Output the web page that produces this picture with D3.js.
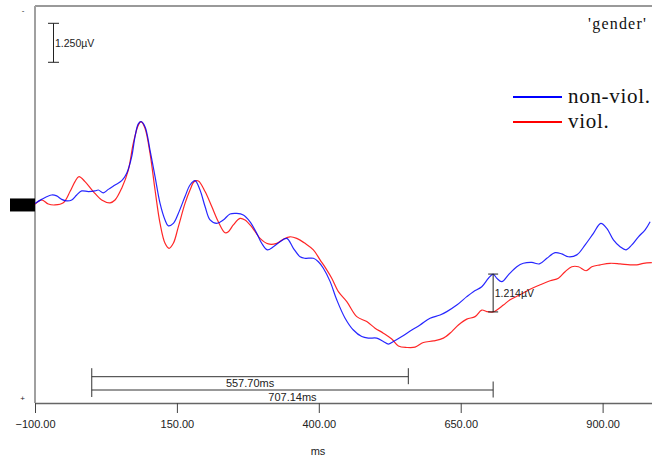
<!DOCTYPE html>
<html>
<head>
<meta charset="utf-8">
<script src="https://cdn.jsdelivr.net/npm/d3@7"></script>
<style>
  html, body { margin: 0; padding: 0; background: #fff; }
  svg { display: block; }
  .sans { font-family: "Liberation Sans", Arial, sans-serif; fill: #222; }
  .serif { font-family: "Liberation Serif", "Times New Roman", serif; fill: #111; }
</style>
</head>
<body>
<svg id="chart" width="652" height="459"></svg>
<script>
// ERP grand average, condition 'gender' (amplitude in µV, negative plotted up)
const tickMs = [-100, 150, 400, 650, 900];

const nonViolMs = [-100, -88.2, -70.6, -61.8, -53.0, -44.1, -35.3, -26.5, -17.7, -6.1, 5.7, 11.5, 20.4, 29.2,
  41.0, 52.8, 61.6, 70.4, 76.2, 82.0, 86.8, 93.8, 102.6, 111.5, 120.3, 129.1, 134.9, 143.7, 152.5, 164.3,
  173.1, 181.9, 190.7, 199.6, 208.4, 220.2, 231.8, 243.6, 255.4, 267.0, 278.9, 290.7, 299.5, 309.3, 319.9,
  331.7, 343.5, 355.2, 367.0, 375.8, 390.4, 399.2, 408.0, 419.8, 431.6, 446.3, 460.9, 475.7, 487.3, 502.1,
  513.7, 522.6, 531.4, 546.2, 563.8, 578.4, 596.0, 613.7, 625.5, 643.1, 660.7, 672.3, 687.1, 698.8, 707.14,
  713.6, 722.4, 734.0, 748.8, 760.4, 775.2, 788.6, 801.7, 816.3, 828.1, 839.7, 854.5, 869.2, 883.8, 896.8,
  907.4, 919.0, 930.8, 941.4, 951.5, 963.1, 974.9, 983.7];
const nonViolUv = [-0.05, -0.18, -0.32, -0.29, -0.18, -0.13, -0.16, -0.32, -0.45, -0.43, -0.45, -0.48, -0.39, -0.50,
  -0.64, -0.78, -1.02, -1.55, -2.19, -2.60, -2.67, -2.51, -1.76, -0.91, -0.05, 0.48, 0.67, 0.59, 0.27, -0.27,
  -0.64, -0.78, -0.48, 0.05, 0.48, 0.59, 0.48, 0.29, 0.27, 0.32, 0.54, 0.91, 1.23, 1.44, 1.34,
  1.18, 1.07, 1.39, 1.66, 1.71, 1.71, 1.82, 2.03, 2.45, 3.04, 3.63, 4.01, 4.22, 4.27, 4.27,
  4.38, 4.46, 4.38, 4.22, 4.01, 3.85, 3.63, 3.53, 3.42, 3.21, 2.94, 2.78, 2.62, 2.35, 2.216,
  2.35, 2.46, 2.24, 1.98, 1.87, 1.84, 1.89, 1.71, 1.53, 1.57, 1.66, 1.60, 1.28, 0.91, 0.59,
  0.75, 1.12, 1.34, 1.44, 1.28, 1.02, 0.80, 0.54];

const violMs = [-100, -88.2, -76.6, -64.8, -50.1, -38.3, -29.5, -22.5, -11.9, 2.7, 17.5, 32.2, 41.0, 52.8,
  64.4, 73.2, 82.0, 86.8, 93.8, 102.6, 111.5, 120.3, 129.1, 136.1, 143.7, 152.5, 164.3, 173.1, 180.7,
  187.8, 199.6, 211.4, 223.0, 234.8, 240.6, 249.4, 261.2, 270.0, 281.8, 296.5, 311.1, 325.9, 337.5, 349.3,
  361.1, 375.8, 390.4, 402.2, 414.0, 422.8, 434.5, 449.3, 466.9, 484.5, 499.1, 513.7, 528.5, 540.2, 555.0,
  569.6, 584.2, 601.9, 619.5, 634.3, 645.9, 660.7, 675.3, 687.1, 696.0, 707.14, 713.6, 725.2, 737.0, 754.6,
  772.2, 789.9, 807.5, 822.1, 833.9, 845.7, 857.4, 870.9, 881.0, 895.6, 913.2, 930.8, 948.5, 960.3, 971.9, 986.7];
const violUv = [-0.02, -0.16, -0.03, 0.00, -0.07, -0.43, -0.75, -0.91, -0.75, -0.43, -0.16, -0.07, -0.16, -0.54,
  -1.12, -1.98, -2.56, -2.67, -2.46, -1.66, -0.48, 0.59, 1.23, 1.39, 1.23, 0.70, -0.05, -0.48, -0.75,
  -0.77, -0.43, 0.05, 0.54, 0.89, 0.86, 0.64, 0.43, 0.48, 0.70, 1.07, 1.25, 1.23, 1.10, 1.02,
  1.07, 1.23, 1.44, 1.76, 2.08, 2.35, 2.78, 3.10, 3.58, 3.74, 3.95, 4.11, 4.30, 4.52, 4.57,
  4.56, 4.41, 4.36, 4.27, 4.06, 3.85, 3.66, 3.58, 3.37, 3.42, 3.43, 3.37, 3.21, 3.04, 2.88,
  2.70, 2.56, 2.43, 2.35, 2.14, 1.98, 1.98, 2.11, 1.98, 1.92, 1.87, 1.89, 1.92, 1.92, 1.87, 1.85];

const seriesNames = ["non-viol.", "viol."];
const seriesColors = ["#0000ff", "#ff0000"];
const conditionLabel = "'gender'";

// latency markers (ms from stimulus onset) and amplitude readout
const latencyMarks = [557.70, 707.14];
const scaleBarUv = 1.25;
const diffTimeMs = 707.14;

const svg = d3.select("#chart");
const plotLeft = 35, plotRight = 652, plotTop = 6, plotBottom = 403;

const x = d3.scaleLinear().domain([-100, 987]).range([plotLeft, plotRight]);
const y = d3.scaleLinear().domain([-6.38, 6.35]).range([plotTop, plotBottom]);

svg.append("defs").append("clipPath").attr("id", "plotClip")
  .append("rect").attr("x", plotLeft).attr("y", plotTop)
  .attr("width", plotRight - plotLeft).attr("height", plotBottom - plotTop);

// frame: top border and left axis
svg.append("line").attr("x1", plotLeft).attr("x2", plotRight).attr("y1", plotTop).attr("y2", plotTop)
  .attr("stroke", "#999").attr("stroke-width", 2);
svg.append("line").attr("x1", plotLeft).attr("x2", plotLeft).attr("y1", plotTop).attr("y2", plotBottom)
  .attr("stroke", "#a0a0a0").attr("stroke-width", 2);

// polarity markers and baseline block
svg.append("text").attr("class", "sans").attr("x", 23).attr("y", 13)
  .attr("font-size", 8).attr("text-anchor", "middle").text("-");
svg.append("text").attr("class", "sans").attr("x", 22.5).attr("y", 401)
  .attr("font-size", 8).attr("text-anchor", "middle").text("+");
svg.append("rect").attr("x", 10).attr("y", y(0) - 6.5).attr("width", plotLeft - 10).attr("height", 13)
  .attr("fill", "#000");

// x axis
const xAxis = d3.axisBottom(x).tickValues(tickMs).tickFormat(d3.format(".2f"))
  .tickSize(10).tickSizeOuter(0);
const gx = svg.append("g").attr("transform", `translate(0,${plotBottom})`).call(xAxis);
gx.select(".domain").attr("stroke", "#666").attr("stroke-width", 1.5);
gx.selectAll(".tick line").attr("stroke", "#444");
gx.selectAll(".tick text").attr("class", "sans").attr("font-size", 11).attr("dy", "1.05em")
  .style("font-family", "'Liberation Sans', Arial, sans-serif").attr("fill", "#222");
svg.append("text").attr("class", "sans").attr("x", 318).attr("y", 455)
  .attr("font-size", 11).attr("text-anchor", "middle").text("ms");

// amplitude scale bar
const sbX = 53.5, sbTop = 23.3;
const sbLen = y(scaleBarUv) - y(0);
const sb = svg.append("g").attr("stroke", "#222").attr("stroke-width", 1);
sb.append("line").attr("x1", sbX).attr("x2", sbX).attr("y1", sbTop).attr("y2", sbTop + sbLen);
sb.append("line").attr("x1", sbX - 5.5).attr("x2", sbX + 5.5).attr("y1", sbTop).attr("y2", sbTop);
sb.append("line").attr("x1", sbX - 5.5).attr("x2", sbX + 5.5).attr("y1", sbTop + sbLen).attr("y2", sbTop + sbLen);
svg.append("text").attr("class", "sans").attr("x", sbX + 1.5).attr("y", sbTop + sbLen / 2 + 4)
  .attr("font-size", 10.5).text(scaleBarUv.toFixed(3) + "µV");

// waveforms
const line = d3.line().x(d => x(d[0])).y(d => y(d[1])).curve(d3.curveCatmullRom.alpha(0.5));
const seriesData = [d3.zip(nonViolMs, nonViolUv), d3.zip(violMs, violUv)];
const waves = svg.append("g").attr("clip-path", "url(#plotClip)");
seriesData.slice().reverse().forEach((data, i) => {
  const k = seriesData.length - 1 - i;
  waves.append("path").datum(data).attr("d", line)
    .attr("fill", "none").attr("stroke", seriesColors[k]).attr("stroke-width", 1.2)
    .attr("stroke-opacity", 0.85);
});

// amplitude difference at the second latency mark
const bAt = nonViolUv[nonViolMs.indexOf(diffTimeMs)];
const rAt = violUv[violMs.indexOf(diffTimeMs)];
const mx = x(diffTimeMs);
const mg = svg.append("g").attr("stroke", "#222").attr("stroke-width", 1);
mg.append("line").attr("x1", mx).attr("x2", mx).attr("y1", y(bAt)).attr("y2", y(rAt));
[bAt, rAt].forEach(v => mg.append("line").attr("x1", mx - 5).attr("x2", mx + 5)
  .attr("y1", y(v)).attr("y2", y(v)));
svg.append("text").attr("class", "sans").attr("x", mx + 1.5).attr("y", (y(bAt) + y(rAt)) / 2 + 4)
  .attr("font-size", 10.5).text((rAt - bAt).toFixed(3) + "µV");

// latency bars from stimulus onset
const barY = [376.7, 390];
const lg = svg.append("g").attr("stroke", "#333").attr("stroke-width", 1);
lg.append("line").attr("x1", x(0)).attr("x2", x(0)).attr("y1", barY[0] - 8.5).attr("y2", barY[1] + 7);
latencyMarks.forEach((ms, i) => {
  lg.append("line").attr("x1", x(0)).attr("x2", x(ms)).attr("y1", barY[i]).attr("y2", barY[i]);
  lg.append("line").attr("x1", x(ms)).attr("x2", x(ms)).attr("y1", barY[i] - 8.5).attr("y2", barY[i] + 7.5);
  svg.append("text").attr("class", "sans").attr("x", (x(0) + x(ms)) / 2).attr("y", barY[i] + 10.5)
    .attr("font-size", 11).attr("text-anchor", "middle").text(ms.toFixed(2) + "ms");
});

// condition label and legend
svg.append("text").attr("class", "serif").attr("x", 647).attr("y", 29)
  .attr("font-size", 16).attr("letter-spacing", 1.2).attr("text-anchor", "end").text(conditionLabel);
const legY = [97, 122];
seriesNames.forEach((name, i) => {
  svg.append("line").attr("x1", 513).attr("x2", 562).attr("y1", legY[i]).attr("y2", legY[i])
    .attr("stroke", seriesColors[i]).attr("stroke-width", 2);
  svg.append("text").attr("class", "serif").attr("x", 568).attr("y", legY[i] + 5.5)
    .attr("font-size", 21).attr("letter-spacing", 0.7).text(name);
});
</script>
</body>
</html>
